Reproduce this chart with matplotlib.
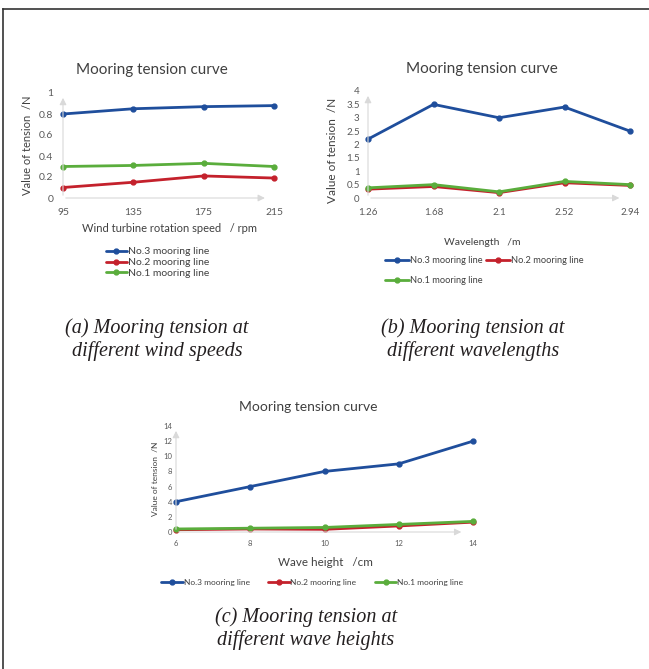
import matplotlib
matplotlib.use("Agg")
import matplotlib.pyplot as plt
from matplotlib.lines import Line2D

plt.rcParams['font.family'] = ['Lato', 'DejaVu Sans']

# panel (a): wind turbine rotation speed
speed_labels = ["95", "135", "175", "215"]
a_no3 = [0.80, 0.85, 0.87, 0.88]
a_no2 = [0.10, 0.15, 0.21, 0.19]
a_no1 = [0.30, 0.31, 0.33, 0.30]

# panel (b): wavelength
wave_labels = ["1.26", "1.68", "2.1", "2.52", "2.94"]
b_no3 = [2.2, 3.5, 3.0, 3.4, 2.5]
b_no2 = [0.33, 0.43, 0.20, 0.57, 0.47]
b_no1 = [0.38, 0.50, 0.23, 0.62, 0.50]

# panel (c): wave height
height_labels = ["6", "8", "10", "12", "14"]
c_no3 = [4.0, 6.0, 8.0, 9.0, 12.0]
c_no2 = [0.30, 0.40, 0.35, 0.80, 1.30]
c_no1 = [0.40, 0.50, 0.60, 1.00, 1.40]

series_names = ["No.3 mooring line", "No.2 mooring line", "No.1 mooring line"]
colors = ["#1f4e9c", "#c4212c", "#5aad3c"]

W, H = 649, 669
fig = plt.figure(figsize=(W / 100, H / 100), dpi=100)


def fx(px):
    return px / W


def fy(py):
    return 1 - py / H


def panel(rect, labels, data, yticks, ylim, tsize, ypad, xpad):
    ax = fig.add_axes(rect)
    xs = list(range(len(labels)))
    handles = []
    for vals, c, name in zip(data, colors, series_names):
        h, = ax.plot(xs, vals, color=c, lw=2.0, marker='o', ms=3.5, label=name,
                     solid_capstyle='round', clip_on=False)
        handles.append(h)
    ax.set_xlim(0, len(labels) - 1)
    ax.set_ylim(*ylim)
    ax.set_xticks(xs)
    ax.set_xticklabels(labels)
    ax.set_yticks(yticks)
    ax.set_yticklabels([f"{t:g}" for t in yticks])
    ax.tick_params(length=0, labelsize=tsize, colors="#595959")
    ax.tick_params(axis='y', pad=ypad)
    ax.tick_params(axis='x', pad=xpad)
    for s in ax.spines.values():
        s.set_visible(False)
    # faint axis arrows
    ax.annotate("", xy=(0, 0.98), xytext=(0, 0), xycoords='axes fraction',
                arrowprops=dict(arrowstyle='-|>', color="#d9d9d9", lw=0.8))
    ax.annotate("", xy=(0.97, 0), xytext=(0, 0), xycoords='axes fraction',
                arrowprops=dict(arrowstyle='-|>', color="#d9d9d9", lw=0.8))
    return ax, handles


txt = dict(color="#404040", ha='center', va='center')
leg = dict(frameon=False, handletextpad=0.1, borderpad=0, borderaxespad=0,
           labelcolor="#404040")

# (a)
ax_a, h = panel([fx(63), fy(198), fx(211), 105 / H], speed_labels,
                [a_no3, a_no2, a_no1], [0, 0.2, 0.4, 0.6, 0.8, 1], (0, 1), 7.5, 7, 7)
fig.text(fx(152), fy(70), "Mooring tension curve", fontsize=11, **txt)
fig.text(fx(169), fy(229), "Wind turbine rotation speed   / rpm", fontsize=8, **txt)
fig.text(fx(28), fy(145), "Value of tension  /N", fontsize=8, rotation=90, **txt)
fig.legend(handles=h, loc='upper left', bbox_to_anchor=(fx(106), fy(247)),
           fontsize=7.5, handlelength=2.0, labelspacing=0.15, **leg)

# (b)
ax_b, h = panel([fx(368), fy(198), fx(262), 107 / H], wave_labels,
                [b_no3, b_no2, b_no1], [0, 0.5, 1, 1.5, 2, 2.5, 3, 3.5, 4], (0, 4), 7, 6, 7)
fig.text(fx(482), fy(69), "Mooring tension curve", fontsize=11, **txt)
fig.text(fx(482), fy(242), "Wavelength   /m", fontsize=7.5, **txt)
fig.text(fx(333), fy(150), "Value of tension  /N", fontsize=8.5, rotation=90, **txt)
# order so rows read: No.3, No.2 / No.1
fig.legend(handles=[h[0], h[2], h[1]], loc='upper left', bbox_to_anchor=(fx(385), fy(256)),
           ncol=2, fontsize=6.7, handlelength=2.6, columnspacing=0.3, labelspacing=1.2, **leg)

# (c)
ax_c, h = panel([fx(176), fy(532), fx(297), 106 / H], height_labels,
                [c_no3, c_no2, c_no1], [0, 2, 4, 6, 8, 10, 12, 14], (0, 14), 5.5, 3, 6)
fig.text(fx(308), fy(407), "Mooring tension curve", fontsize=10, **txt)
fig.text(fx(325), fy(563), "Wave height   /cm", fontsize=8.4, **txt)
fig.text(fx(155), fy(479), "Value of tension  /N", fontsize=6, rotation=90, **txt)
fig.legend(handles=h, loc='upper left', bbox_to_anchor=(fx(161), fy(579)), ncol=3,
           fontsize=6, handlelength=2.6, columnspacing=2.2, **leg)

# captions
cap = dict(family=['Liberation Serif', 'DejaVu Serif'], style='italic', fontsize=14.5,
           color="#231f20", ha='center', va='center', linespacing=1.2)
fig.text(fx(157), fy(340), "(a) Mooring tension at\ndifferent wind speeds", **cap)
fig.text(fx(473), fy(340), "(b) Mooring tension at\ndifferent wavelengths", **cap)
fig.text(fx(306), fy(629), "(c) Mooring tension at\ndifferent wave heights", **cap)

# frame lines (top and left only)
fig.add_artist(Line2D([fx(3), 1], [fy(9), fy(9)], color="#333333", lw=1.2))
fig.add_artist(Line2D([fx(3), fx(3)], [0, fy(9)], color="#333333", lw=1.2))

fig.savefig("out.png", dpi=100)
